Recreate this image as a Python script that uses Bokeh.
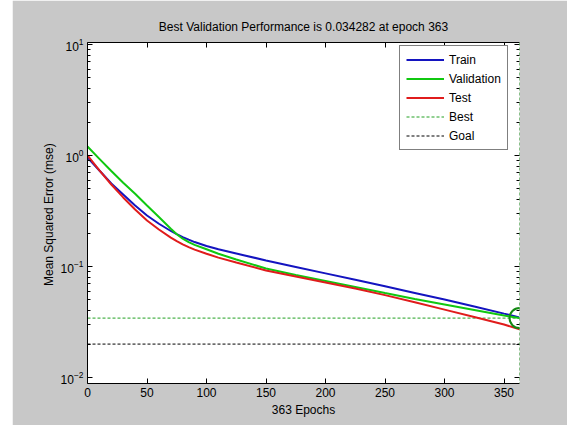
from bokeh.plotting import figure
from bokeh.models import (FixedTicker, LinearAxis, LogAxis, Range1d, Legend,
                          LegendItem, Span, CustomJSTickFormatter)
from bokeh.embed import file_html
from bokeh.resources import INLINE

# ---- data ----
epochs = [0, 10, 20, 30, 40, 50, 60, 70, 75, 80, 85, 90, 100, 110, 125, 150,
          175, 200, 225, 250, 275, 300, 325, 350, 363]
train = [0.959, 0.733, 0.560, 0.446, 0.355, 0.288, 0.2427, 0.2089, 0.1954,
         0.1841, 0.1746, 0.166, 0.1531, 0.1429, 0.131, 0.1133, 0.0991, 0.0867,
         0.0759, 0.0664, 0.0578, 0.0504, 0.0437, 0.0376, 0.0348]
validation = [1.205, 0.933, 0.724, 0.569, 0.452, 0.355, 0.279, 0.219, 0.195,
              0.178, 0.166, 0.1567, 0.1429, 0.1303, 0.1156, 0.0959, 0.0838,
              0.0740, 0.0654, 0.0577, 0.0510, 0.0455, 0.0406, 0.0362, 0.034282]
test = [1.0, 0.733, 0.548, 0.419, 0.3266, 0.260, 0.2153, 0.182, 0.1694, 0.1585,
        0.1496, 0.1419, 0.1303, 0.1202, 0.1086, 0.092, 0.0813, 0.0718, 0.0634,
        0.0552, 0.0476, 0.0409, 0.0351, 0.0300, 0.0272]
best_epoch = 363
best_perf = 0.034282
goal = 0.02
x_ticks = [0, 50, 100, 150, 200, 250, 300, 350]
y_ticks = [0.01, 0.1, 1, 10]
y_minor = [m * d for d in (0.01, 0.1, 1) for m in (2, 3, 4, 5, 6, 7, 8, 9)]
x_lim = (0, 363)
y_lim = (0.00883, 10.42)

FONT = "Liberation Sans"
GRAY = "#c8c8c8"

p = figure(frame_width=432, frame_height=341, output_backend="svg",
           toolbar_location=None, y_axis_type="log",
           x_range=Range1d(*x_lim), y_range=Range1d(*y_lim),
           min_border_left=75, min_border_right=48, min_border_top=42,
           min_border_bottom=42, margin=(0, 0, 0, 12))
p.border_fill_color = GRAY
p.background_fill_color = "white"
p.outline_line_color = None
p.grid.visible = False

p.title.text = "Best Validation Performance is 0.034282 at epoch 363"
p.title.align = "center"
p.title.text_font = FONT
p.title.text_font_size = "12px"
p.title.text_font_style = "normal"
p.title.text_color = "black"
p.title.standoff = 18


def style_axis(ax, ticker):
    ax.ticker = ticker
    ax.axis_line_color = "black"
    ax.major_tick_in = 5
    ax.major_tick_out = 0
    ax.minor_tick_in = 3
    ax.minor_tick_out = 0
    ax.major_tick_line_color = "black"
    ax.minor_tick_line_color = "black"
    ax.major_label_text_font = FONT
    ax.major_label_text_font_size = "12px"
    ax.major_label_text_color = "black"
    ax.major_label_standoff = 4
    ax.axis_label_text_font = FONT
    ax.axis_label_text_font_size = "12px"
    ax.axis_label_text_font_style = "normal"
    ax.axis_label_text_color = "black"


blank = CustomJSTickFormatter(code="return ''")

style_axis(p.xaxis[0], FixedTicker(ticks=x_ticks))
p.xaxis[0].minor_tick_line_color = None
p.xaxis[0].axis_label = "363 Epochs"
p.xaxis[0].axis_label_standoff = 3

style_axis(p.yaxis[0], FixedTicker(ticks=y_ticks, minor_ticks=y_minor))
p.yaxis[0].axis_label = "Mean Squared Error  (mse)"
p.yaxis[0].axis_label_standoff = 2

top_ax = LinearAxis(formatter=blank)
style_axis(top_ax, FixedTicker(ticks=x_ticks))
top_ax.minor_tick_line_color = None
top_ax.major_label_standoff = 0
p.add_layout(top_ax, "above")

right_ax = LogAxis(formatter=blank)
style_axis(right_ax, FixedTicker(ticks=y_ticks, minor_ticks=y_minor))
right_ax.major_label_standoff = 0
right_ax.axis_line_color = None
p.add_layout(right_ax, "right")

# ---- glyphs ----
r_best = p.line([x_lim[0], best_epoch], [best_perf, best_perf],
                line_color="#22a022", line_width=1, line_dash="3 2")
r_goal = p.line([x_lim[0], best_epoch], [goal, goal],
                line_color="black", line_width=1, line_dash="3 2")
p.add_layout(Span(location=best_epoch, dimension="height",
                  line_color="#1e8c1e", line_width=1, line_dash="3 2"))

r_train = p.line(epochs, train, line_color="#1414c0", line_width=2)
r_val = p.line(epochs, validation, line_color="#10c810", line_width=2)
r_test = p.line(epochs, test, line_color="#e01c1c", line_width=2)

p.scatter([best_epoch], [best_perf], marker="circle", size=20,
          fill_color=None, line_color="#138a13", line_width=2)

legend = Legend(items=[
    LegendItem(label="Train", renderers=[r_train]),
    LegendItem(label="Validation", renderers=[r_val]),
    LegendItem(label="Test", renderers=[r_test]),
    LegendItem(label="Best", renderers=[r_best]),
    LegendItem(label="Goal", renderers=[r_goal]),
], location=(312, 233))
legend.margin = 0
legend.padding = 6
legend.spacing = 4
legend.glyph_width = 38
legend.glyph_height = 15
legend.label_height = 15
legend.label_standoff = 5
legend.label_text_font = FONT
legend.label_text_font_size = "12px"
legend.label_text_color = "black"
legend.border_line_color = "black"
legend.border_line_width = 1
legend.background_fill_color = "white"
legend.background_fill_alpha = 1
p.add_layout(legend)

open("out.html", "w").write(file_html(p, INLINE))
